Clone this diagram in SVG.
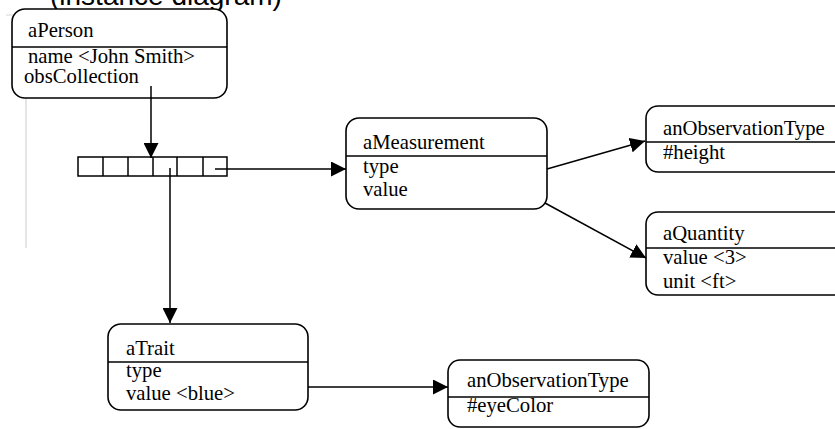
<svg xmlns="http://www.w3.org/2000/svg" width="835" height="429" viewBox="0 0 835 429">
<style>
.box{fill:#fff;stroke:#000;stroke-width:1.6}
.div{stroke:#000;stroke-width:1.6}
.t{font-family:"Liberation Serif","Times New Roman",serif;font-size:20.7px;fill:#000}
.c{stroke:#000;stroke-width:1.5;fill:none}
.cell{fill:#fff;stroke:#000;stroke-width:1.5}
</style>
<defs>
<marker id="ah" markerUnits="userSpaceOnUse" markerWidth="16" markerHeight="15" refX="15" refY="7.5" orient="auto">
<path d="M0,0 L15,7.5 L0,15 z" fill="#000"/>
</marker>
</defs>
<rect width="835" height="429" fill="#fff"/>
<path d="M26,15 L26,248" stroke="#d4d4d4" stroke-width="1.2" fill="none"/>
<path d="M6,15 L20,15 Q24,15 26,18" stroke="#d4d4d4" stroke-width="1" fill="none"/>
<text x="50" y="5" font-family="'Liberation Sans',Arial,sans-serif" font-size="28" fill="#000">(instance diagram)</text>

<g id="aPerson">
<rect class="box" x="12" y="9" width="215" height="89" rx="13"/>
<line class="div" x1="12" y1="47" x2="227" y2="47"/>
<text class="t" x="28" y="37">aPerson</text>
<text class="t" x="28" y="63">name &lt;John Smith&gt;</text>
<text class="t" x="24" y="83">obsCollection</text>
</g>

<g id="collection">
<rect class="cell" x="78" y="157" width="149" height="19"/>
<line class="cell" x1="103" y1="157" x2="103" y2="176"/>
<line class="cell" x1="128" y1="157" x2="128" y2="176"/>
<line class="cell" x1="153" y1="157" x2="153" y2="176"/>
<line class="cell" x1="177" y1="157" x2="177" y2="176"/>
<line class="cell" x1="203" y1="157" x2="203" y2="176"/>
</g>

<g id="aMeasurement">
<rect class="box" x="346" y="118" width="201" height="91" rx="13"/>
<line class="div" x1="346" y1="156" x2="547" y2="156"/>
<text class="t" x="363" y="149">aMeasurement</text>
<text class="t" x="363" y="173">type</text>
<text class="t" x="363" y="196">value</text>
</g>

<g id="anObservationTypeHeight">
<rect class="box" x="646" y="106" width="220" height="66" rx="12"/>
<line class="div" x1="646" y1="142" x2="835" y2="142"/>
<text class="t" x="663" y="135">anObservationType</text>
<text class="t" x="663" y="159">#height</text>
</g>

<g id="aQuantity">
<rect class="box" x="646" y="212" width="220" height="83" rx="12"/>
<line class="div" x1="646" y1="248" x2="835" y2="248"/>
<text class="t" x="663" y="240">aQuantity</text>
<text class="t" x="663" y="264">value &lt;3&gt;</text>
<text class="t" x="663" y="288">unit &lt;ft&gt;</text>
</g>

<g id="aTrait">
<rect class="box" x="108" y="324" width="200" height="86" rx="13"/>
<line class="div" x1="108" y1="362" x2="308" y2="362"/>
<text class="t" x="126" y="355">aTrait</text>
<text class="t" x="126" y="377">type</text>
<text class="t" x="126" y="400">value &lt;blue&gt;</text>
</g>

<g id="anObservationTypeEyeColor">
<rect class="box" x="448" y="360" width="201" height="67" rx="12"/>
<line class="div" x1="448" y1="397" x2="649" y2="397"/>
<text class="t" x="467" y="387">anObservationType</text>
<text class="t" x="467" y="412">#eyeColor</text>
</g>

<g id="connectors">
<line class="c" x1="151" y1="86" x2="151" y2="158" marker-end="url(#ah)"/>
<line class="c" x1="215" y1="169" x2="346" y2="169" marker-end="url(#ah)"/>
<line class="c" x1="170" y1="168" x2="170" y2="323" marker-end="url(#ah)"/>
<line class="c" x1="547" y1="169" x2="645" y2="141" marker-end="url(#ah)"/>
<line class="c" x1="545" y1="203" x2="646" y2="258" marker-end="url(#ah)"/>
<line class="c" x1="308" y1="387" x2="448" y2="387" marker-end="url(#ah)"/>
</g>
</svg>
